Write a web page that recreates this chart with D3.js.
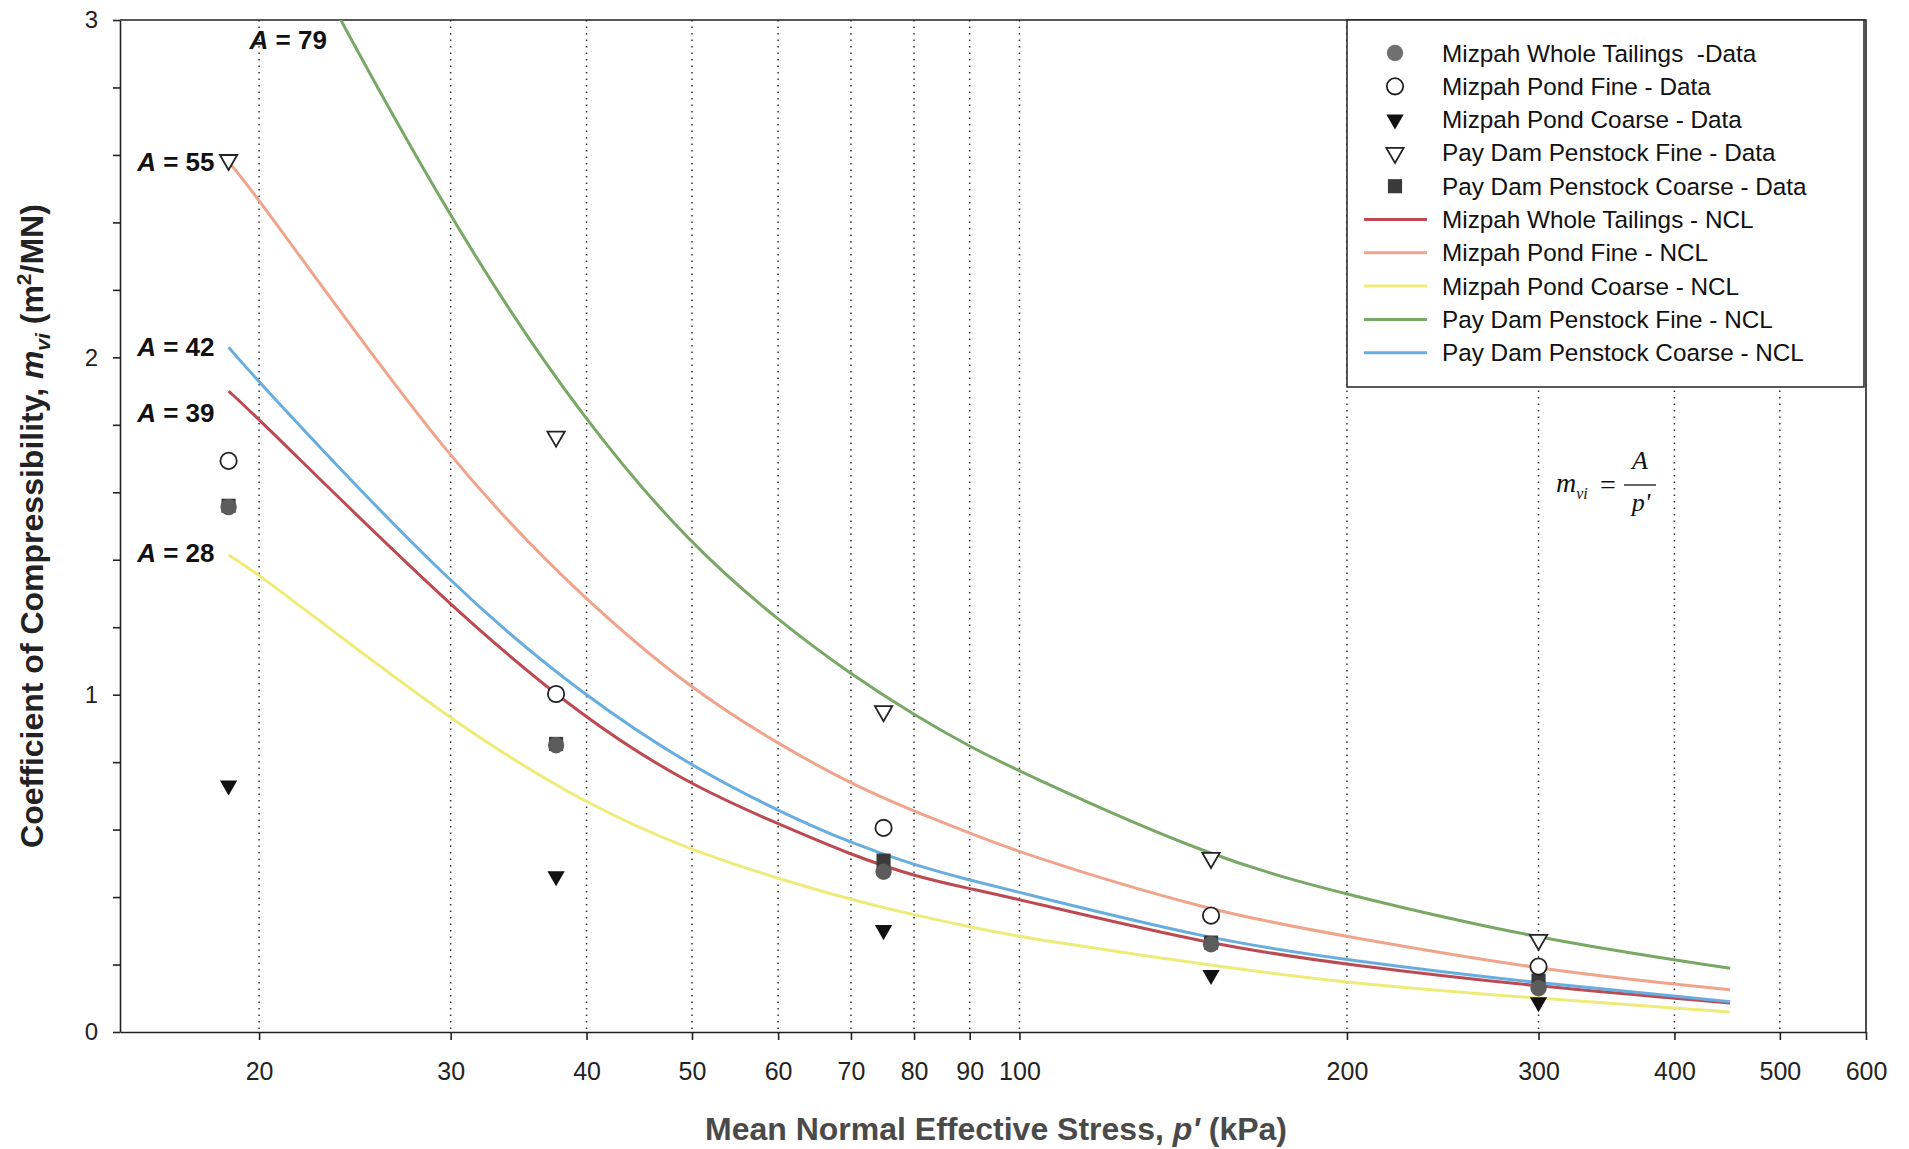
<!DOCTYPE html>
<html>
<head>
<meta charset="utf-8">
<script src="https://cdn.jsdelivr.net/npm/d3@7"></script>
<style>
  body { margin: 0; background: #fff; }
  svg { font-family: "Liberation Sans", Arial, sans-serif; }
</style>
</head>
<body>
<svg id="chart"></svg>
<script>
// Coefficient of compressibility vs mean normal effective stress (log x)
const width = 1909, height = 1149;
const plot = { left: 120, right: 1866, top: 20, bottom: 1032 };

// x tick values (kPa) and y range
const stressTicks = [20, 30, 40, 50, 60, 70, 80, 90, 100, 200, 300, 400, 500, 600];
const mvTicks = [0, 1, 2, 3];

// NCL curves
const nclStress = [18.75, 20, 30, 40, 50, 60, 70, 80, 90, 100, 150, 200, 300, 450];
const wholeNCL = [1.90, 1.817, 1.257, 0.922, 0.729, 0.617, 0.525, 0.462, 0.425, 0.393, 0.258, 0.199, 0.134, 0.086];
const pondFineNCL = [2.58, 2.47, 1.68, 1.275, 1.014, 0.854, 0.735, 0.654, 0.59, 0.531, 0.356, 0.283, 0.184, 0.125];
const pondCoarseNCL = [1.414, 1.358, 0.92, 0.673, 0.537, 0.455, 0.392, 0.347, 0.312, 0.281, 0.197, 0.144, 0.10, 0.059];
const payFineNCL = [3.65, 3.45, 2.39, 1.80, 1.44, 1.22, 1.06, 0.94, 0.846, 0.772, 0.516, 0.406, 0.275, 0.189];
const payCoarseNCL = [2.03, 1.925, 1.32, 0.99, 0.786, 0.655, 0.56, 0.495, 0.45, 0.414, 0.273, 0.213, 0.144, 0.09];

// test data points
const testStress = [18.75, 37.5, 75, 150, 300];
const wholeData = [1.556, 0.85, 0.475, 0.26, 0.13];
const pondFineData = [1.693, 1.002, 0.605, 0.345, 0.194];
const pondCoarseData = [0.731, 0.462, 0.302, 0.169, 0.088];
const payFineData = [2.585, 1.765, 0.951, 0.516, 0.273];
const payCoarseData = [1.56, 0.854, 0.508, 0.265, 0.152];

// A values labelled next to each curve, with anchor (stress, mv)
const aValues = [79, 55, 42, 39, 28];
const aStress = [19.6, 18.2, 18.2, 18.2, 18.2];
const aMv = [2.94, 2.58, 2.03, 1.835, 1.42];

const legendNames = [
  "Mizpah Whole Tailings  -Data", "Mizpah Pond Fine - Data", "Mizpah Pond Coarse - Data",
  "Pay Dam Penstock Fine - Data", "Pay Dam Penstock Coarse - Data",
  "Mizpah Whole Tailings - NCL", "Mizpah Pond Fine - NCL", "Mizpah Pond Coarse - NCL",
  "Pay Dam Penstock Fine - NCL", "Pay Dam Penstock Coarse - NCL"
];

const colors = {
  whole: "#bd4a52", pondFine: "#f0a48c", pondCoarse: "#eeeb7a",
  payFine: "#79a866", payCoarse: "#68ade0"
};

const svg = d3.select("#chart")
  .attr("width", width)
  .attr("height", height);

const x = d3.scaleLog().domain([14.9, 600]).range([plot.left, plot.right]);
const y = d3.scaleLinear().domain([0, 3]).range([plot.bottom, plot.top]);

svg.append("defs").append("clipPath").attr("id", "plot-clip")
  .append("rect")
  .attr("x", plot.left).attr("y", plot.top)
  .attr("width", plot.right - plot.left).attr("height", plot.bottom - plot.top);

// dotted vertical gridlines
svg.append("g")
  .selectAll("line")
  .data(stressTicks.filter(d => d < 600))
  .join("line")
  .attr("x1", d => x(d)).attr("x2", d => x(d))
  .attr("y1", plot.top).attr("y2", plot.bottom)
  .attr("stroke", "#333")
  .attr("stroke-width", 1.5)
  .attr("stroke-dasharray", "1.5,5");

// x axis
const xAxis = svg.append("g")
  .attr("transform", `translate(0,${plot.bottom})`)
  .call(d3.axisBottom(x).tickValues(stressTicks).tickFormat(d3.format("d"))
    .tickSize(8).tickSizeOuter(0).tickPadding(22))
  .attr("font-size", 25)
  .attr("font-family", null);
xAxis.selectAll("line, path").attr("stroke", "#222").attr("stroke-width", 1.6);
xAxis.selectAll("text").attr("fill", "#222");

// y axis, minor ticks every 0.2
const yTickValues = d3.range(16).map(i => i / 5);
const yAxis = svg.append("g")
  .attr("transform", `translate(${plot.left},0)`)
  .call(d3.axisLeft(y).tickValues(yTickValues)
    .tickFormat(d => mvTicks.includes(Math.round(d * 5) / 5) ? d3.format("d")(d) : "")
    .tickSize(7).tickSizeOuter(0).tickPadding(15))
  .attr("font-size", 24)
  .attr("font-family", null);
yAxis.selectAll("line, path").attr("stroke", "#222").attr("stroke-width", 1.6);
yAxis.selectAll("text").attr("fill", "#222");

// top and right frame
svg.append("path")
  .attr("d", `M${plot.left},${plot.top}H${plot.right}V${plot.bottom}`)
  .attr("fill", "none")
  .attr("stroke", "#222")
  .attr("stroke-width", 1.6);

// NCL curves
const nclSeries = [
  { values: wholeNCL, color: colors.whole },
  { values: pondFineNCL, color: colors.pondFine },
  { values: pondCoarseNCL, color: colors.pondCoarse },
  { values: payFineNCL, color: colors.payFine },
  { values: payCoarseNCL, color: colors.payCoarse }
];

const line = d3.line()
  .x(d => x(d[0]))
  .y(d => y(d[1]))
  .curve(d3.curveBasis);

svg.append("g")
  .attr("clip-path", "url(#plot-clip)")
  .selectAll("path")
  .data(nclSeries)
  .join("path")
  .attr("d", s => line(nclStress.map((p, i) => [p, s.values[i]])))
  .attr("fill", "none")
  .attr("stroke", d => d.color)
  .attr("stroke-width", 3);

// data markers
const triDown = d3.symbol(d3.symbolTriangle, 130);
const markerSeries = [
  { values: payCoarseData, path: d3.symbol(d3.symbolSquare, 200)(), fill: "#3a3a3a", stroke: "none", rot: 0 },
  { values: wholeData, path: d3.symbol(d3.symbolCircle, 210)(), fill: "#5c5c5c", stroke: "none", rot: 0 },
  { values: pondFineData, path: d3.symbol(d3.symbolCircle, 210)(), fill: "#fff", stroke: "#222", rot: 0 },
  { values: pondCoarseData, path: triDown(), fill: "#111", stroke: "none", rot: 180 },
  { values: payFineData, path: triDown(), fill: "#fff", stroke: "#222", rot: 180 }
];

markerSeries.forEach(s => {
  svg.append("g")
    .selectAll("path")
    .data(testStress.map((p, i) => [p, s.values[i]]))
    .join("path")
    .attr("d", s.path)
    .attr("transform", d => `translate(${x(d[0])},${y(d[1])}) rotate(${s.rot})`)
    .attr("fill", s.fill)
    .attr("stroke", s.stroke)
    .attr("stroke-width", 1.8);
});

// A = ... labels
const aLabel = svg.append("g")
  .attr("font-size", 26)
  .attr("font-weight", "bold")
  .attr("fill", "#111")
  .selectAll("text")
  .data(aValues)
  .join("text")
  .attr("x", (d, i) => x(aStress[i]))
  .attr("y", (d, i) => y(aMv[i]))
  .attr("dy", "0.35em")
  .attr("text-anchor", (d, i) => i === 0 ? "start" : "end");
aLabel.append("tspan").attr("font-style", "italic").text("A");
aLabel.append("tspan").text(d => ` = ${d}`);

// formula
const formula = svg.append("g")
  .attr("font-family", "'Liberation Serif', 'Times New Roman', serif")
  .attr("font-style", "italic")
  .attr("fill", "#111");
const lhs = formula.append("text").attr("x", 1556).attr("y", 492).attr("font-size", 28);
lhs.append("tspan").text("m");
lhs.append("tspan").attr("font-size", 16).attr("dy", 7).text("vi");
formula.append("text").attr("x", 1600).attr("y", 494).attr("font-size", 28)
  .attr("font-style", "normal").text("=");
formula.append("text").attr("x", 1640).attr("y", 469).attr("font-size", 26)
  .attr("text-anchor", "middle").text("A");
formula.append("line").attr("x1", 1624).attr("x2", 1656).attr("y1", 485).attr("y2", 485)
  .attr("stroke", "#111").attr("stroke-width", 1.3);
formula.append("text").attr("x", 1641).attr("y", 511).attr("font-size", 26)
  .attr("text-anchor", "middle").text("p'");

// legend
const legend = svg.append("g");
legend.append("rect")
  .attr("x", 1347).attr("y", plot.top)
  .attr("width", 517).attr("height", 367)
  .attr("fill", "#fff")
  .attr("stroke", "#222")
  .attr("stroke-width", 1.5);

const legendMarkers = [
  markerSeries[1], markerSeries[2], markerSeries[3], markerSeries[4], markerSeries[0]
];
const legendColors = [colors.whole, colors.pondFine, colors.pondCoarse, colors.payFine, colors.payCoarse];

const item = legend.selectAll(".legend-item")
  .data(legendNames)
  .join("g")
  .attr("class", "legend-item")
  .attr("transform", (d, i) => `translate(0,${53 + i * 33.3})`);

item.each(function(d, i) {
  const g = d3.select(this);
  if (i < 5) {
    const m = legendMarkers[i];
    g.append("path")
      .attr("d", m.path)
      .attr("transform", `translate(1395,0) rotate(${m.rot})`)
      .attr("fill", i === 0 ? "#707070" : m.fill)
      .attr("stroke", m.stroke)
      .attr("stroke-width", 1.8);
  } else {
    g.append("line")
      .attr("x1", 1364).attr("x2", 1427)
      .attr("stroke", legendColors[i - 5])
      .attr("stroke-width", 3);
  }
  g.append("text")
    .attr("x", 1442)
    .attr("dy", "0.35em")
    .attr("font-size", 24.3)
    .attr("fill", "#111")
    .style("white-space", "pre")
    .text(d);
});

// axis titles
const xTitle = svg.append("text")
  .attr("x", 996).attr("y", 1140)
  .attr("text-anchor", "middle")
  .attr("font-size", 32)
  .attr("font-weight", "bold")
  .attr("fill", "#4a4a4a");
xTitle.append("tspan").text("Mean Normal Effective Stress, ");
xTitle.append("tspan").attr("font-style", "italic").text("p'");
xTitle.append("tspan").text(" (kPa)");

const yTitle = svg.append("text")
  .attr("transform", "translate(43,526) rotate(-90)")
  .attr("text-anchor", "middle")
  .attr("font-size", 32)
  .attr("font-weight", "bold")
  .attr("fill", "#222");
yTitle.append("tspan").text("Coefficient of Compressibility, ");
yTitle.append("tspan").attr("font-style", "italic").text("m");
yTitle.append("tspan").attr("font-style", "italic").attr("font-size", 21).attr("dy", 7).text("vi");
yTitle.append("tspan").attr("dy", -7).text(" (m");
yTitle.append("tspan").attr("font-size", 21).attr("dy", -12).text("2");
yTitle.append("tspan").attr("dy", 12).text("/MN)");
</script>
</body>
</html>
